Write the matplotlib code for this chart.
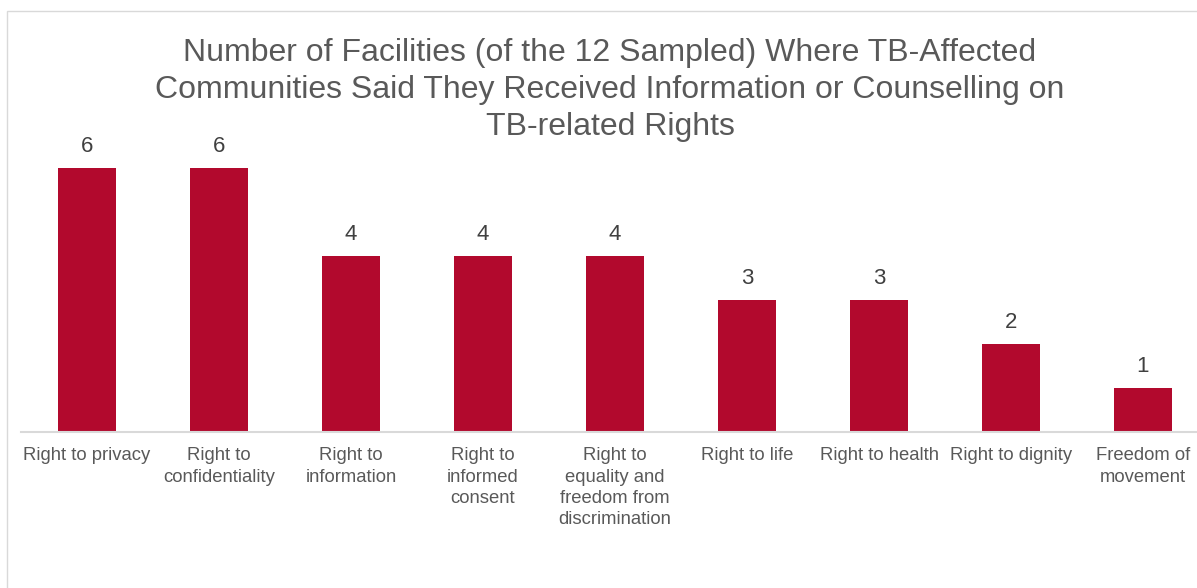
import matplotlib
matplotlib.use("Agg")
import matplotlib.pyplot as plt
from matplotlib.patches import Rectangle

categories = ["Right to privacy", "Right to\nconfidentiality", "Right to\ninformation",
              "Right to\ninformed\nconsent", "Right to\nequality and\nfreedom from\ndiscrimination",
              "Right to life", "Right to health", "Right to dignity", "Freedom of\nmovement"]
values = [6, 6, 4, 4, 4, 3, 3, 2, 1]
title_lines = ["Number of Facilities (of the 12 Sampled) Where TB-Affected",
               "Communities Said They Received Information or Counselling on",
               "TB-related Rights"]

W, H = 1197, 588
plt.rcParams['font.family'] = ['Liberation Sans', 'DejaVu Sans']
fig = plt.figure(figsize=(W / 100, H / 100), dpi=100)

# outer chart border
fig.patches.append(Rectangle((7 / W, -0.1), 1.2, (H - 11) / H + 0.1, transform=fig.transFigure,
                             fill=False, edgecolor="#D9D9D9", linewidth=1.0))

ax_left = 21 / W
ax_width = (9 * 132) / W
ax_bottom = (H - 432) / H
ax_height = (7 * 44) / H
ax = fig.add_axes([ax_left, ax_bottom, ax_width, ax_height])

x = list(range(len(values)))
bars = ax.bar(x, values, width=0.445, color="#B2092D", zorder=2)
ax.set_xlim(-0.5, len(values) - 0.5)
ax.set_ylim(0, 7)
ax.bar_label(bars, labels=[str(v) for v in values], padding=8, fontsize=16, color="#404040")

for s in ["top", "right", "left"]:
    ax.spines[s].set_visible(False)
ax.spines["bottom"].set_color("#D9D9D9")
ax.spines["bottom"].set_linewidth(1.5)
ax.set_yticks([])
ax.set_xticks(x)
ax.set_xticklabels(categories, fontsize=13.3, color="#595959", linespacing=1.33)
ax.tick_params(axis="x", length=0, pad=11)

# title drawn line by line (centred on the chart area)
for i, line in enumerate(title_lines):
    fig.text(610 / W, 1 - (49 + 37.5 * i) / H, line, ha="center", va="center_baseline",
             fontsize=23, color="#595959")

fig.savefig("out.png", dpi=100)
